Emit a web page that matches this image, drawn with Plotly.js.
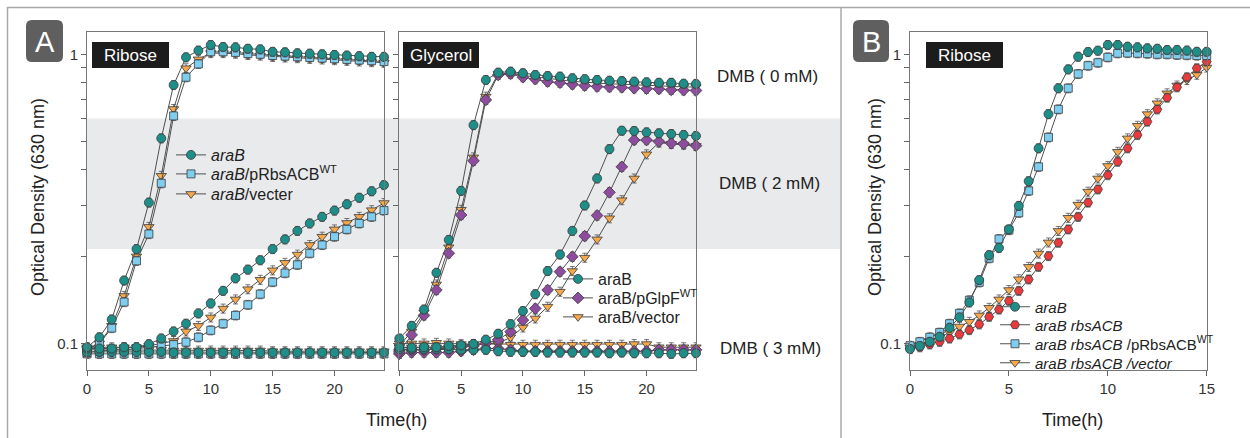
<!DOCTYPE html>
<html>
<head>
<meta charset="utf-8">
<script src="https://cdn.plot.ly/plotly-3.0.1.min.js"></script>
<style>html,body{margin:0;padding:0;background:#fff;}#chart{width:1250px;height:438px;}</style>
</head>
<body>
<div id="chart"></div>
<script>
// ---------- data ----------
var hoursA = [0,1,2,3,4,5,6,7,8,9,10,11,12,13,14,15,16,17,18,19,20,21,22,23,24];
var hoursB = [0,0.5,1,1.5,2,2.5,3,3.5,4,4.5,5,5.5,6,6.5,7,7.5,8,8.5,9,9.5,10,10.5,11,11.5,12,12.5,13,13.5,14,14.5,15];

// Panel A - Ribose
var ribAraB0 = [0.097,0.105,0.121,0.165,0.212,0.307,0.512,0.783,0.976,1.03,1.077,1.06,1.057,1.045,1.04,1.02,1.016,1.008,1.005,1.0,0.995,0.99,0.985,0.98,0.98];
var ribPR0   = [0.095,0.1,0.113,0.139,0.193,0.239,0.358,0.612,0.833,0.926,1.02,1.02,1.015,1.005,1.0,0.99,0.985,0.98,0.975,0.97,0.965,0.96,0.955,0.95,0.943];
var ribVec0  = [0.096,0.1,0.115,0.146,0.2,0.253,0.38,0.647,0.895,0.961,1.01,1.01,1.005,0.995,0.99,0.98,0.975,0.97,0.965,0.96,0.955,0.95,0.945,0.94,0.935];
var ribAraB2 = [0.096,0.096,0.096,0.097,0.097,0.0994,0.104,0.11,0.117,0.127,0.1375,0.152,0.168,0.18,0.194,0.212,0.229,0.245,0.26,0.274,0.288,0.303,0.319,0.336,0.353];
var ribPR2   = [0.093,0.094,0.095,0.095,0.096,0.097,0.098,0.099,0.101,0.105,0.111,0.117,0.125,0.136,0.148,0.163,0.175,0.187,0.205,0.219,0.234,0.248,0.26,0.274,0.288];
var ribVec2  = [0.097,0.097,0.097,0.097,0.097,0.098,0.1,0.102,0.11,0.115,0.123,0.132,0.142,0.154,0.166,0.179,0.19,0.203,0.219,0.234,0.248,0.261,0.274,0.289,0.306];
var ribAraB3 = [0.0935,0.0935,0.0935,0.0935,0.0935,0.0935,0.0935,0.093,0.093,0.093,0.093,0.093,0.093,0.093,0.093,0.093,0.093,0.093,0.093,0.093,0.093,0.093,0.093,0.093,0.093];
var ribPR3   = [0.092,0.092,0.092,0.092,0.092,0.092,0.092,0.092,0.092,0.092,0.092,0.092,0.092,0.092,0.092,0.092,0.092,0.092,0.092,0.092,0.092,0.092,0.092,0.092,0.092];
var ribVec3  = [0.095,0.095,0.095,0.095,0.095,0.095,0.095,0.0945,0.0945,0.0945,0.0945,0.0945,0.0945,0.0945,0.0945,0.094,0.094,0.094,0.094,0.094,0.094,0.094,0.094,0.094,0.094];

// Panel A - Glycerol
var glyAraB0 = [0.104,0.115,0.131,0.1755,0.228,0.337,0.569,0.815,0.864,0.871,0.86,0.848,0.841,0.837,0.826,0.82,0.815,0.81,0.808,0.804,0.8,0.797,0.797,0.791,0.79];
var glyGlp0  = [0.0935,0.107,0.125,0.153,0.205,0.278,0.428,0.695,0.848,0.855,0.833,0.82,0.804,0.797,0.787,0.779,0.773,0.77,0.768,0.763,0.76,0.758,0.753,0.751,0.749];
var glyVec0  = [0.098,0.11,0.128,0.16,0.215,0.29,0.44,0.714,0.855,0.86,0.845,0.834,0.822,0.816,0.806,0.8,0.795,0.79,0.788,0.784,0.78,0.778,0.775,0.771,0.77];
var glyAraB2 = [0.097,0.0967,0.097,0.097,0.098,0.0985,0.0996,0.103,0.108,0.1166,0.1294,0.148,0.178,0.203,0.245,0.3,0.372,0.47,0.544,0.543,0.537,0.533,0.53,0.526,0.522];
var glyGlp2  = [0.095,0.095,0.095,0.096,0.096,0.097,0.098,0.1,0.103,0.1097,0.1204,0.132,0.153,0.177,0.1995,0.235,0.277,0.333,0.408,0.505,0.505,0.499,0.492,0.49,0.483];
var glyVec2  = [0.097,0.097,0.097,0.097,0.097,0.098,0.099,0.1,0.1,0.105,0.1136,0.122,0.134,0.151,0.178,0.198,0.229,0.271,0.313,0.372,0.451,0.495,0.49,0.487,0.482];
var glyAraB3 = [0.0955,0.0955,0.0955,0.0955,0.0955,0.095,0.095,0.095,0.094,0.0935,0.0935,0.0935,0.093,0.093,0.093,0.093,0.093,0.0925,0.093,0.0925,0.0925,0.0925,0.092,0.0925,0.0925];
var glyGlp3  = [0.092,0.093,0.093,0.093,0.093,0.094,0.095,0.096,0.096,0.095,0.094,0.094,0.094,0.094,0.094,0.094,0.094,0.094,0.094,0.094,0.094,0.095,0.095,0.095,0.095];
var glyVec3  = [0.1,0.1,0.1,0.1005,0.1,0.0995,0.0995,0.0995,0.099,0.099,0.099,0.099,0.099,0.099,0.099,0.099,0.099,0.099,0.099,0.0995,0.0995,0.097,0.097,0.097,0.097];

// Panel B - Ribose
var bAraB = [0.0956,0.098,0.1013,0.1054,0.1133,0.123,0.1386,0.1656,0.202,0.214,0.248,0.299,0.364,0.473,0.621,0.763,0.887,0.981,1.018,1.029,1.077,1.077,1.062,1.057,1.049,1.045,1.035,1.035,1.03,1.02,1.02];
var bRbs  = [0.096,0.097,0.0992,0.1013,0.104,0.1075,0.1112,0.1164,0.1236,0.131,0.1404,0.152,0.1665,0.184,0.2005,0.223,0.248,0.274,0.307,0.341,0.382,0.425,0.473,0.526,0.585,0.645,0.708,0.769,0.833,0.895,0.943];
var bPR   = [0.0982,0.1013,0.105,0.109,0.117,0.127,0.141,0.1626,0.197,0.2296,0.2466,0.283,0.337,0.408,0.516,0.645,0.763,0.855,0.913,0.935,0.976,1.008,1.01,1.008,1.005,1.0,1.0,0.995,0.993,0.99,0.99];
var bVec  = [0.097,0.099,0.102,0.105,0.109,0.1144,0.1188,0.125,0.1328,0.142,0.153,0.1667,0.184,0.2046,0.2235,0.245,0.272,0.302,0.335,0.372,0.411,0.46,0.512,0.566,0.621,0.677,0.733,0.78,0.815,0.85,0.9];

var yMajor = [0.1, 1];
var yMajorText = ['0.1', '1'];
var yMinor = [0.2,0.3,0.4,0.5,0.6,0.7,0.8,0.9];
var xTicksA = [0,5,10,15,20];
var xTicksB = [0,5,10,15];

// ---------- styles ----------
var TEAL = '#1e8e89', BLUE = '#7fcdef', ORANGE = '#f6a84c', PURPLE = '#8d4c9e', RED = '#e93a3d';
var W = 1250, H = 438;
function px(x){ return x / W; }
function py(y){ return 1 - y / H; }

function series(x, y, xa, ya, color, symbol, size, name, legend, show){
  return {
    type: 'scatter', mode: 'lines+markers', x: x, y: y, xaxis: xa, yaxis: ya,
    name: name, legend: legend, showlegend: show, cliponaxis: false,
    line: {color: '#505050', width: 1},
    marker: {color: color, symbol: symbol, size: size, line: {color: '#3a3a3a', width: 0.8}},
    error_y: {type: 'percent', value: 3.6, color: '#555', thickness: 0.8, width: 2.5}
  };
}

var traces = [];
// Ribose (A): drawn vector -> pRbsACB -> araB (araB on top)
var ribSets = [
  [ribVec0, ribVec2, ribVec3, ORANGE, 'triangle-down', 9, '<i>araB</i>/vecter', 'legend3'],
  [ribPR0, ribPR2, ribPR3, BLUE, 'square', 8, '<i>araB</i>/pRbsACB<sup>WT</sup>', 'legend2'],
  [ribAraB0, ribAraB2, ribAraB3, TEAL, 'circle', 9, '<i>araB</i>', 'legend']
];
ribSets.forEach(function(s){
  traces.push(series(hoursA, s[2], 'x', 'y', s[3], s[4], s[5], s[6], s[7], false));
  traces.push(series(hoursA, s[1], 'x', 'y', s[3], s[4], s[5], s[6], s[7], false));
  traces.push(series(hoursA, s[0], 'x', 'y', s[3], s[4], s[5], s[6], s[7], true));
});
// Glycerol (A)
var glySets = [
  [glyVec0, glyVec2, glyVec3, ORANGE, 'triangle-down', 9, 'araB/vector', 'legend6'],
  [glyGlp0, glyGlp2, glyGlp3, PURPLE, 'diamond', 9, 'araB/pGlpF<sup>WT</sup>', 'legend5'],
  [glyAraB0, glyAraB2, glyAraB3, TEAL, 'circle', 9, 'araB', 'legend4']
];
glySets.forEach(function(s){
  traces.push(series(hoursA, s[2], 'x2', 'y2', s[3], s[4], s[5], s[6], s[7], false));
  traces.push(series(hoursA, s[1], 'x2', 'y2', s[3], s[4], s[5], s[6], s[7], false));
  traces.push(series(hoursA, s[0], 'x2', 'y2', s[3], s[4], s[5], s[6], s[7], true));
});
// Panel B
traces.push(series(hoursB, bVec, 'x3', 'y3', ORANGE, 'triangle-down', 9, '<i>araB rbsACB /vector</i>', 'legend10', true));
traces.push(series(hoursB, bRbs, 'x3', 'y3', RED, 'hexagon2', 9, '<i>araB rbsACB</i>', 'legend8', true));
traces.push(series(hoursB, bPR, 'x3', 'y3', BLUE, 'square', 8, '<i>araB rbsACB</i> /pRbsACB<sup>WT</sup>', 'legend9', true));
traces.push(series(hoursB, bAraB, 'x3', 'y3', TEAL, 'circle', 9, '<i>araB</i>', 'legend7', true));

var F = 'Liberation Sans, Arial, sans-serif';
var tickFont = {family: F, size: 15, color: '#333'};
function xAxis(dom, range, ticks, anchor){
  return {domain: dom, range: range, tickvals: ticks, ticks: 'outside', ticklen: 5, tickcolor: '#666',
    showline: true, mirror: true, linecolor: '#777', linewidth: 1, zeroline: false, showgrid: false,
    tickfont: tickFont, anchor: anchor, fixedrange: true};
}
function yAxis(labels, anchor){
  return {domain: [py(370), py(32.3)], type: 'log', range: [-1.092, 0.076],
    tickvals: yMajor, ticktext: yMajorText, showticklabels: labels,
    ticks: 'outside', ticklen: 5, tickcolor: '#666',
    minor: {tickvals: yMinor, ticks: 'outside', ticklen: 5, tickcolor: '#666', showgrid: false},
    showline: true, mirror: true, linecolor: '#777', linewidth: 1, zeroline: false, showgrid: false,
    tickfont: tickFont, anchor: anchor, fixedrange: true};
}

function roundRect(x0, y0, x1, y1, r){
  var X0 = px(x0), X1 = px(x1), Y0 = py(y0), Y1 = py(y1), rx = r / W, ry = r / H;
  return 'M' + (X0 + rx) + ',' + Y0 + ' L' + (X1 - rx) + ',' + Y0 + ' Q' + X1 + ',' + Y0 + ' ' + X1 + ',' + (Y0 - ry) +
    ' L' + X1 + ',' + (Y1 + ry) + ' Q' + X1 + ',' + Y1 + ' ' + (X1 - rx) + ',' + Y1 +
    ' L' + (X0 + rx) + ',' + Y1 + ' Q' + X0 + ',' + Y1 + ' ' + X0 + ',' + (Y1 + ry) +
    ' L' + X0 + ',' + (Y0 - ry) + ' Q' + X0 + ',' + Y0 + ' ' + (X0 + rx) + ',' + Y0 + ' Z';
}

var shapes = [
  {type: 'rect', xref: 'paper', yref: 'y', x0: px(87), x1: px(840), y0: 0.212, y1: 0.6, fillcolor: '#e9eaec', line: {width: 0}, layer: 'below'},
  {type: 'line', xref: 'paper', yref: 'paper', x0: px(7), x1: 1, y0: py(7.5), y1: py(7.5), line: {color: '#a8a8a8', width: 1.5}},
  {type: 'line', xref: 'paper', yref: 'paper', x0: px(7.5), x1: px(7.5), y0: py(7), y1: 0, line: {color: '#a8a8a8', width: 1.5}},
  {type: 'line', xref: 'paper', yref: 'paper', x0: px(841), x1: px(841), y0: py(7), y1: 0, line: {color: '#a8a8a8', width: 1.5}},
  {type: 'path', xref: 'paper', yref: 'paper', path: roundRect(26, 20, 63, 62, 6), fillcolor: '#5f5f5f', line: {width: 0}},
  {type: 'path', xref: 'paper', yref: 'paper', path: roundRect(853, 20, 889, 62, 6), fillcolor: '#5f5f5f', line: {width: 0}},
  {type: 'rect', xref: 'paper', yref: 'paper', x0: px(92), x1: px(169), y0: py(42), y1: py(68), fillcolor: '#1c1c1c', line: {width: 0}},
  {type: 'rect', xref: 'paper', yref: 'paper', x0: px(403), x1: px(479), y0: py(42), y1: py(68), fillcolor: '#1c1c1c', line: {width: 0}},
  {type: 'rect', xref: 'paper', yref: 'paper', x0: px(926), x1: px(1003), y0: py(42), y1: py(68), fillcolor: '#1c1c1c', line: {width: 0}}
];

function ann(text, x, y, size, color, xanchor, angle){
  return {text: text, xref: 'paper', yref: 'paper', x: px(x), y: py(y), showarrow: false,
    xanchor: xanchor || 'center', yanchor: 'middle', textangle: angle || 0,
    font: {family: F, size: size, color: color}};
}
var annotations = [
  ann('A', 44.5, 41.5, 29, '#ffffff'),
  ann('B', 871, 41.5, 29, '#ffffff'),
  ann('Ribose', 130.5, 55, 17, '#ffffff'),
  ann('Glycerol', 441, 55, 17, '#ffffff'),
  ann('Ribose', 964.5, 55, 17, '#ffffff'),
  ann('DMB ( 0 mM)', 715, 76, 17, '#222', 'left'),
  ann('DMB ( 2 mM)', 717, 183, 17, '#222', 'left'),
  ann('DMB ( 3 mM)', 718, 348, 17, '#222', 'left'),
  ann('Optical Density (630 nm)', 38, 197, 18, '#222', 'center', -90),
  ann('Optical Density (630 nm)', 875, 197, 18, '#222', 'center', -90),
  ann('Time(h)', 396, 420, 18, '#222'),
  ann('Time(h)', 1072, 420, 18, '#222')
];

function legendCfg(x, y, size){
  return {x: px(x), y: py(y), xanchor: 'left', yanchor: 'middle', xref: 'paper', yref: 'paper',
    bgcolor: 'rgba(0,0,0,0)', borderwidth: 0, itemwidth: 30,
    font: {family: F, size: size, color: '#222'}};
}

var layout = {
  width: W, height: H, margin: {l: 0, r: 0, t: 0, b: 0},
  paper_bgcolor: '#ffffff', plot_bgcolor: 'rgba(0,0,0,0)',
  font: {family: F, color: '#333'},
  xaxis: xAxis([px(87), px(384)], [0, 24], xTicksA, 'y'),
  yaxis: yAxis(true, 'x'),
  xaxis2: xAxis([px(399.3), px(696)], [0, 24], xTicksA, 'y2'),
  yaxis2: yAxis(false, 'x2'),
  xaxis3: xAxis([px(910), px(1206.7)], [0, 15], xTicksB, 'y3'),
  yaxis3: yAxis(true, 'x3'),
  legend:  legendCfg(171, 155, 16),
  legend2: legendCfg(171, 174, 16),
  legend3: legendCfg(171, 194, 16),
  legend4: legendCfg(558, 279, 16),
  legend5: legendCfg(558, 298, 16),
  legend6: legendCfg(558, 317, 16),
  legend7: legendCfg(995, 307, 15),
  legend8: legendCfg(995, 325, 15),
  legend9: legendCfg(995, 344, 15),
  legend10: legendCfg(995, 363, 15),
  shapes: shapes,
  annotations: annotations,
  showlegend: true
};

Plotly.newPlot('chart', traces, layout, {displayModeBar: false, staticPlot: true});
</script>
</body>
</html>
